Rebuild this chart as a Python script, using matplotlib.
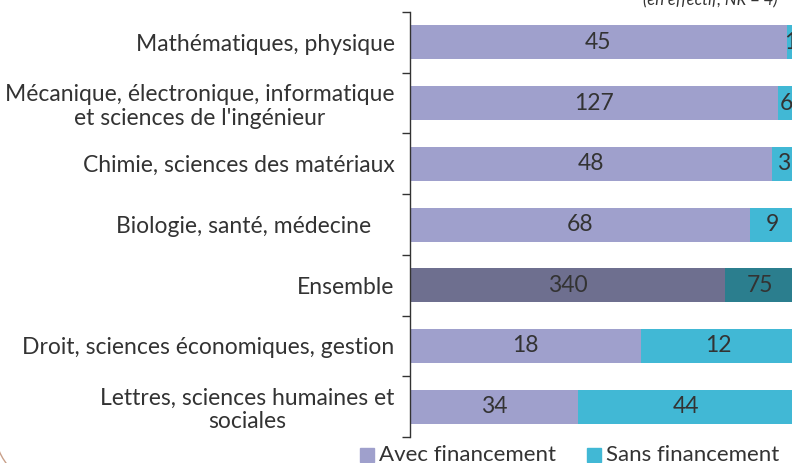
import matplotlib
matplotlib.use("Agg")
import matplotlib.pyplot as plt
from matplotlib.patches import Rectangle, Arc
import numpy as np

categories = [
    "Mathématiques, physique",
    "Mécanique, électronique, informatique\net sciences de l'ingénieur",
    "Chimie, sciences des matériaux",
    "Biologie, santé, médecine    ",
    "Ensemble",
    "Droit, sciences économiques, gestion",
    "Lettres, sciences humaines et\nsociales",
]
avec = [45, 127, 48, 68, 340, 18, 34]
sans = [1, 6, 3, 9, 75, 12, 44]
series_names = ["Avec financement", "Sans financement"]
note = "(en effectif, NR = 4)"

plt.rcParams['font.family'] = ['Lato', 'DejaVu Sans']
txt = '#333333'
c_avec, c_sans = '#9FA0CC', '#41B8D5'
c_avec_d, c_sans_d = '#6E6F8F', '#2B7E8E'

fig = plt.figure(figsize=(7.92, 4.63), dpi=100)
ax = fig.add_axes([410/792, 1-437/463, 385/792, 425/463])

avec = np.array(avec, float)
sans = np.array(sans, float)
tot = avec + sans
pa = avec / tot
ps = sans / tot
y = np.arange(len(categories))
ca = [c_avec_d if c == "Ensemble" else c_avec for c in categories]
cs = [c_sans_d if c == "Ensemble" else c_sans for c in categories]
h = 0.56
ax.barh(y, pa, height=h, color=ca, edgecolor='none')
ax.barh(y, ps, left=pa, height=h, color=cs, edgecolor='none')
for i in range(len(categories)):
    ax.text(pa[i]/2, y[i], f"{int(avec[i])}", ha='center', va='center', fontsize=16.5, color=txt)
    ax.text(pa[i] + ps[i]/2, y[i], f"{int(sans[i])}", ha='center', va='center', fontsize=16.5, color=txt)

ax.set_xlim(0, 1)
ax.set_ylim(len(categories)-0.5, -0.5)
ax.set_yticks(y)
labels = ax.set_yticklabels(categories, fontsize=16.5, color=txt, linespacing=1.15)
for lb in labels:
    lb.set_multialignment('center')
ax.tick_params(axis='y', which='major', length=0, pad=11)
ax.set_yticks(np.arange(-0.5, len(categories)), minor=True)
ax.tick_params(axis='y', which='minor', length=6, width=1, color='#333333')
ax.set_xticks([])
for s in ['top', 'right', 'bottom']:
    ax.spines[s].set_visible(False)
ax.spines['left'].set_color('#333333')
ax.spines['left'].set_linewidth(1)

fig.text(778/792, 1-0/463, note, ha='right', va='center', fontsize=12, style='italic', color=txt)

# legend
ly = 1 - 455/463
for x0, name, col in [(360, series_names[0], c_avec), (587, series_names[1], c_sans)]:
    fig.patches.append(Rectangle((x0/792, ly - 7/463), 14/792, 14/463, transform=fig.transFigure,
                                 color=col, figure=fig))
    fig.text((x0+19)/792, ly, name, ha='left', va='center', fontsize=16, color=txt)

fig.patches.append(Arc((50/792, 1-430/463), 110/792, 110/463, theta1=180, theta2=270,
                       transform=fig.transFigure, color='#C9A08A', lw=1, figure=fig))

fig.savefig("out.png", dpi=100)
